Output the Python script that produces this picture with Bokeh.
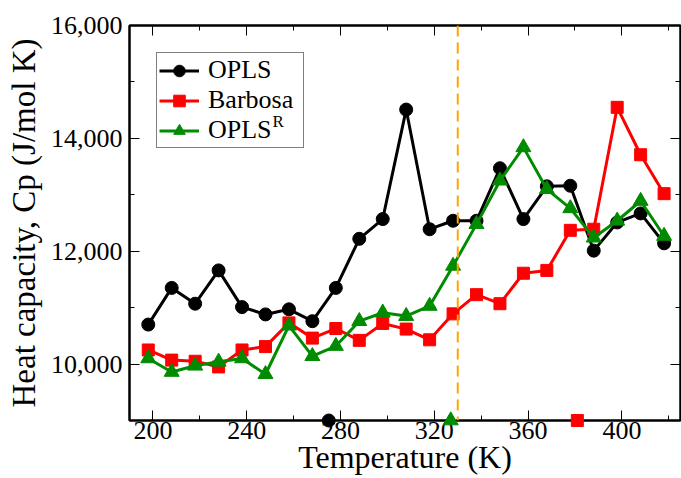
from bokeh.plotting import figure
from bokeh.models import (FixedTicker, NumeralTickFormatter, LinearAxis, Legend,
                          LegendItem, Span, Label, Range1d, ColumnDataSource)
from bokeh.embed import file_html
from bokeh.resources import INLINE

# ---------------- data ----------------
temperature = [198, 208, 218, 228, 238, 248, 258, 268, 278, 288, 298, 308,
               318, 328, 338, 348, 358, 368, 378, 388, 398, 408, 418]
opls = [10700, 11350, 11070, 11660, 11010, 10880, 10970, 10760, 11350, 12220,
        12570, 14510, 12390, 12540, 12540, 13470, 12570, 13150, 13160, 12010,
        12510, 12670, 12140]
barbosa = [10250, 10070, 10050, 9950, 10250, 10310, 10730, 10460, 10630, 10420,
           10720, 10620, 10430, 10890, 11230, 11070, 11610, 11660, 12370, 12390,
           14550, 13710, 13020]
opls_r = [10100, 9860, 9970, 10040, 10100, 9820, 10680, 10140, 10320, 10760,
          10910, 10850, 11030, 11740, 12480, 13250, 13840, 13100, 12760, 12240,
          12540, 12890, 12270]

# isolated points sitting on the lower edge of the plot
opls_low_T = [275]
barbosa_low_T = [381]
opls_r_low_T = [327]
low_cp = [9000]

transition_T = 330

x_major = [200, 240, 280, 320, 360, 400]
x_minor = [200, 220, 240, 260, 280, 300, 320, 340, 360, 380, 400, 420]
y_major = [10000, 12000, 14000, 16000]
y_minor = [9000, 10000, 11000, 12000, 13000, 14000, 15000, 16000]

FONT = "Liberation Serif"
C_OPLS = "#000000"
C_BAR = "#FF0000"
C_OPLSR = "#008B00"

p = figure(width=681, height=478, x_range=Range1d(190, 425), y_range=Range1d(9000, 16000),
           output_backend="svg", toolbar_location=None,
           min_border_left=129, min_border_right=1, min_border_top=25, min_border_bottom=58,
           x_axis_label="Temperature (K)", y_axis_label="Heat capacity, Cp (J/mol K)")
p.grid.visible = False
p.outline_line_color = "black"
p.outline_line_width = 2
p.background_fill_color = "white"
p.border_fill_color = "white"

xt = FixedTicker(ticks=x_major, minor_ticks=x_minor)
yt = FixedTicker(ticks=y_major, minor_ticks=y_minor)


def style_axis(ax, show_labels):
    ax.axis_line_color = "black"
    ax.axis_line_width = 2
    ax.major_tick_in = 10
    ax.major_tick_out = 0
    ax.minor_tick_in = 5
    ax.minor_tick_out = 0
    ax.major_tick_line_color = "black"
    ax.minor_tick_line_color = "black"
    ax.major_tick_line_width = 1
    ax.minor_tick_line_width = 1
    ax.axis_label_text_font = FONT
    ax.axis_label_text_font_style = "normal"
    ax.axis_label_text_color = "black"
    if show_labels:
        ax.major_label_text_font = FONT
        ax.major_label_text_font_size = "26px"
        ax.major_label_text_color = "black"
    else:
        ax.major_label_text_font_size = "1px"
        ax.major_label_text_color = None
        ax.major_label_standoff = 0


xa = p.xaxis[0]
ya = p.yaxis[0]
xa.ticker = xt
ya.ticker = yt
ya.formatter = NumeralTickFormatter(format="0,0")
style_axis(xa, True)
style_axis(ya, True)
xa.axis_label_text_font_size = "32px"
ya.axis_label_text_font_size = "33px"
xa.major_label_standoff = 1
xa.axis_label_standoff = -3
ya.major_label_standoff = 7
ya.axis_label_standoff = 6

top_ax = LinearAxis(ticker=xt)
right_ax = LinearAxis(ticker=yt)
style_axis(top_ax, False)
style_axis(right_ax, False)
p.add_layout(top_ax, "above")
p.add_layout(right_ax, "right")

src = ColumnDataSource(dict(t=temperature, opls=opls, barbosa=barbosa, opls_r=opls_r))

l1 = p.line("t", "opls", source=src, line_color=C_OPLS, line_width=3)
s1 = p.scatter("t", "opls", source=src, marker="circle", size=13, color=C_OPLS)
l2 = p.line("t", "barbosa", source=src, line_color=C_BAR, line_width=3)
s2 = p.scatter("t", "barbosa", source=src, marker="square", size=12, color=C_BAR)
l3 = p.line("t", "opls_r", source=src, line_color=C_OPLSR, line_width=3)
s3 = p.scatter("t", "opls_r", source=src, marker="triangle", size=15, color=C_OPLSR)

e1 = p.scatter(opls_low_T, low_cp, marker="circle", size=13, color=C_OPLS, level="overlay")
e2 = p.scatter(barbosa_low_T, low_cp, marker="square", size=12, color=C_BAR, level="overlay")
e3 = p.scatter(opls_r_low_T, low_cp, marker="triangle", size=15, color=C_OPLSR, level="overlay")

p.add_layout(Span(location=transition_T, dimension="height", line_color="#FFA500",
                  line_width=2, line_dash="11 6"))

legend = Legend(items=[LegendItem(label="OPLS", renderers=[l1, s1]),
                       LegendItem(label="Barbosa", renderers=[l2, s2]),
                       LegendItem(label="OPLS", renderers=[l3, s3])],
                location="top_left", margin=27, padding=2, spacing=0,
                label_standoff=9, glyph_width=40, glyph_height=29, label_width=93,
                label_text_font=FONT, label_text_font_size="26px",
                label_text_color="black",
                border_line_color="black", border_line_width=1.5,
                background_fill_color="white", background_fill_alpha=0.0)
p.add_layout(legend)

# superscript "R" of the third legend entry (OPLS^R)
p.add_layout(Label(x=143, y=299, x_units="screen", y_units="screen", text="R",
                   text_font=FONT, text_font_size="17px", text_color="black",
                   text_baseline="alphabetic", level="overlay"))

open("out.html", "w").write(file_html(p, INLINE))
